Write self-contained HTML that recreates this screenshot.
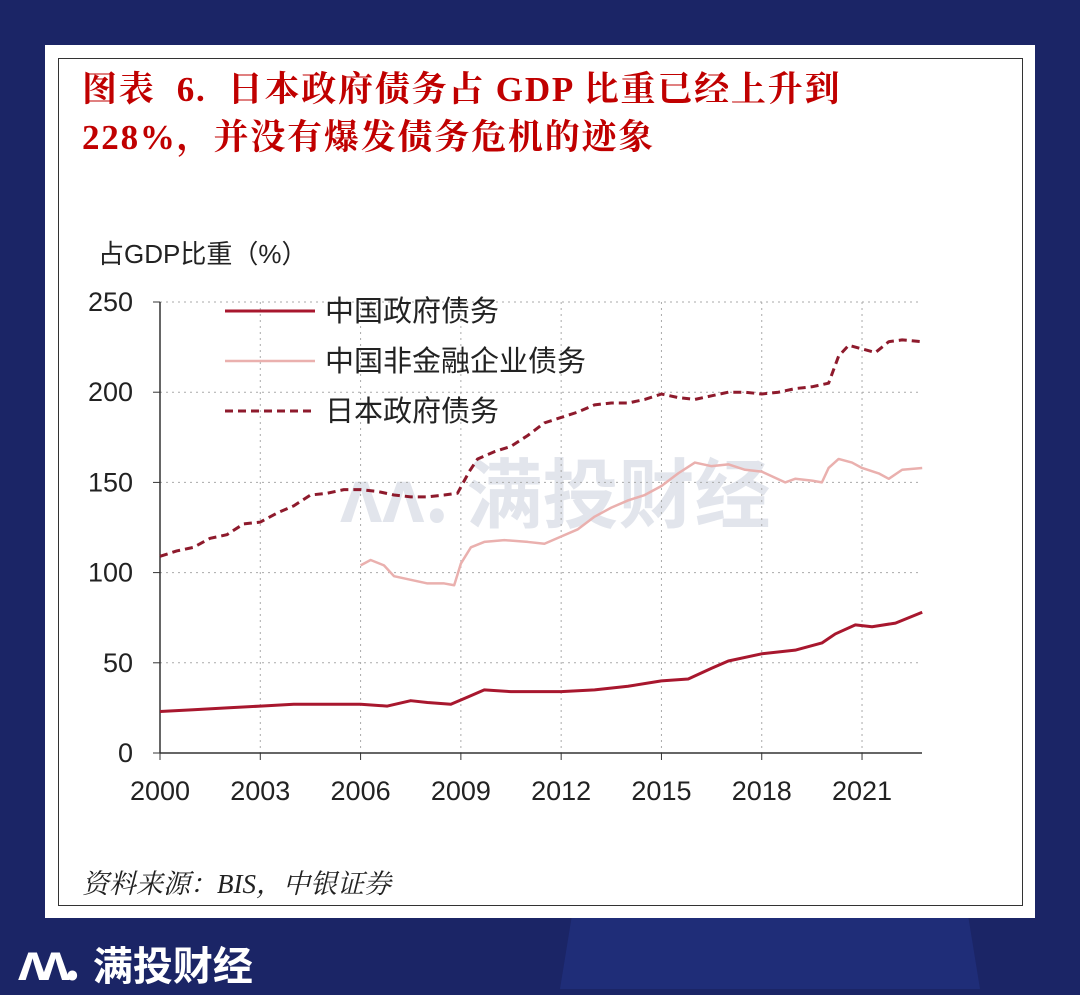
<!DOCTYPE html>
<html><head><meta charset="utf-8"><style>
body{margin:0;width:1080px;height:989px;overflow:hidden;background:#1b2566;font-family:"Liberation Sans","Noto Sans CJK SC",sans-serif;position:relative}
.band{position:absolute;left:560px;top:600px;width:420px;height:389px;background:#213080;clip-path:polygon(15% 0,85% 0,100% 100%,0 100%);opacity:.7}
.card{position:absolute;left:45px;top:45px;width:990px;height:873px;background:#fff}
.inner{position:absolute;left:58px;top:58px;width:963px;height:846px;border:1px solid #333;background:#fff}
.title{position:absolute;left:82px;top:66px;color:#c00000;font:bold 35px "Liberation Serif","Noto Serif CJK SC",serif;line-height:48px;letter-spacing:1.8px}
.src{position:absolute;left:82px;top:862px;font:italic 27px "Liberation Serif","Noto Serif CJK SC",serif;color:#222}
.logo{position:absolute;left:18px;top:920px;color:#fff;font:bold 40px "Noto Sans CJK SC",sans-serif}
</style></head><body>
<div class="band"></div>
<div class="card"></div>
<div class="inner"></div>
<div class="title">图表&nbsp; 6.&nbsp; 日本政府债务占 GDP 比重已经上升到<br>228%，并没有爆发债务危机的迹象</div>
<svg id="c" width="1080" height="989" style="position:absolute;left:0;top:0"></svg>
<div class="src">资料来源：BIS，中银证券</div>
<div class="logo"><span style="font-size:52px;letter-spacing:-6px">ᴧᴧ.</span>&nbsp; 满投财经</div>
<script>
const xTicks=[2000,2003,2006,2009,2012,2015,2018,2021];
const yTicks=[0,50,100,150,200,250];
const govYears=[2000,2001,2002,2003,2004,2005,2006,2006.8,2007.5,2008,2008.7,2009.2,2009.7,2010.5,2011,2012,2013,2014,2015,2015.8,2016.5,2017,2018,2019,2019.8,2020.2,2020.8,2021.3,2022,2022.8];
const govVals=[23,24,25,26,27,27,27,26,29,28,27,31,35,34,34,34,35,37,40,41,47,51,55,57,61,66,71,70,72,78];
const nfcYears=[2006,2006.3,2006.7,2007,2007.5,2008,2008.5,2008.8,2009,2009.3,2009.7,2010.3,2011,2011.5,2012,2012.5,2013,2013.5,2014,2014.5,2015,2015.5,2016,2016.5,2017,2017.5,2018,2018.7,2019,2019.5,2019.8,2020,2020.3,2020.7,2021,2021.5,2021.8,2022.2,2022.8];
const nfcVals=[104,107,104,98,96,94,94,93,105,114,117,118,117,116,120,124,131,136,140,143,148,155,161,159,160,157,156,150,152,151,150,158,163,161,158,155,152,157,158];
const jpYears=[2000,2000.5,2001,2001.5,2002,2002.5,2003,2003.5,2004,2004.5,2005,2005.5,2006,2006.5,2007,2007.5,2008,2008.5,2008.9,2009.25,2009.5,2010,2010.5,2011,2011.5,2012,2012.5,2013,2013.5,2014,2014.5,2015,2015.5,2016,2016.5,2017,2017.5,2018,2018.5,2019,2019.5,2020,2020.3,2020.6,2021,2021.4,2021.8,2022.2,2022.8];
const jpVals=[109,112,114,119,121,127,128,133,137,143,144,146,146,145,143,142,142,143,144,156,163,167,170,176,183,186,189,193,194,194,196,199,197,196,198,200,200,199,200,202,203,205,220,226,224,222,228,229,228];
const X=y=>160+(y-2000)*33.43, Y=v=>753-v*1.804;
const s=document.getElementById('c'),NS='http://www.w3.org/2000/svg';
function el(t,a,txt){const e=document.createElementNS(NS,t);for(const k in a)e.setAttribute(k,a[k]);if(txt!==undefined)e.textContent=txt;s.appendChild(e);return e;}
const wm=el('text',{x:340,y:522,'font-size':76,fill:'#e2e5ec','font-family':'Noto Sans CJK SC,sans-serif','font-weight':'bold'},'ᴧᴧ. 满投财经');


yTicks.forEach(v=>{
 if(v>0){const g=el('line',{x1:160,x2:922,y1:Y(v),y2:Y(v),stroke:'#aaa','stroke-dasharray':'2 4'});
 
 }
 el('line',{x1:153,x2:160,y1:Y(v),y2:Y(v),stroke:'#333'});
 const t=el('text',{x:133,y:Y(v)+9,'font-size':27,'text-anchor':'end',fill:'#222'},v);
 
 
});
xTicks.forEach(y=>{
 if(y>2000){const g=el('line',{x1:X(y),x2:X(y),y1:302,y2:753,stroke:'#aaa','stroke-dasharray':'2 4'});
 
 }
 el('line',{x1:X(y),x2:X(y),y1:753,y2:760,stroke:'#333'});
 const t=el('text',{x:X(y),y:800,'font-size':27,'text-anchor':'middle',fill:'#222'},y);
 
 
});
el('line',{x1:160,x2:160,y1:302,y2:753,stroke:'#333','stroke-width':1.5});
el('line',{x1:160,x2:922,y1:753,y2:753,stroke:'#333','stroke-width':1.5});
const yt=el('text',{x:98,y:263,'font-size':26,fill:'#222'},'占GDP比重（%）');


function line(xs,vs,st,name){
 const p=el('polyline',Object.assign({points:xs.map((x,i)=>X(x)+','+Y(vs[i])).join(' '),fill:'none','stroke-linejoin':'round'},st));
 
 
}
const sGov={stroke:'#a8172e','stroke-width':3},sNfc={stroke:'#eab0ae','stroke-width':2.5},sJp={stroke:'#8e1a2c','stroke-width':3,'stroke-dasharray':'8 5'};
line(nfcYears,nfcVals,sNfc,'china-nfc-debt-line');
line(govYears,govVals,sGov,'china-gov-debt-line');
line(jpYears,jpVals,sJp,'japan-gov-debt-line');
[['中国政府债务',sGov,311],['中国非金融企业债务',sNfc,361],['日本政府债务',sJp,411]].forEach(([t,st,y])=>{
 const l=el('line',Object.assign({x1:225,x2:315,y1:y,y2:y},st));
 
 
 const tx=el('text',{x:325,y:y+10,'font-size':29,fill:'#222'},t);
 
 
});
</script>
</body></html>
